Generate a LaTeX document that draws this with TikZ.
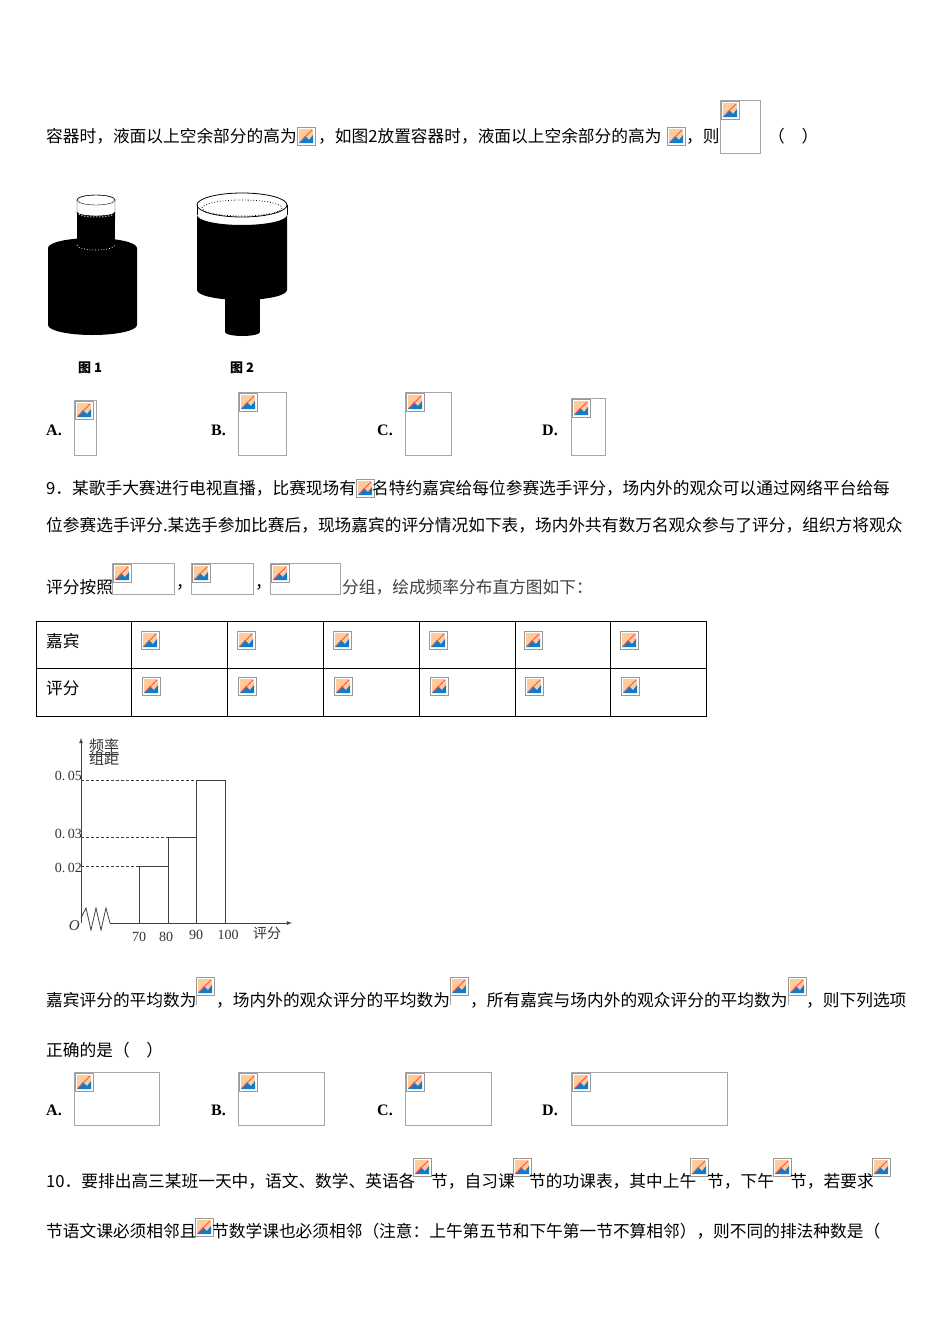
\documentclass[tikz,border=0pt]{standalone}
\usepackage{fontspec}
\newfontfamily\cjk{Noto Sans CJK SC}
\newfontfamily\lib{Liberation Serif}
\begin{document}
\begin{tikzpicture}[x=1pt,y=-1pt,
  tx/.style={anchor=west,inner sep=0pt,font=\cjk\fontsize{16.7}{18}\selectfont},
  lb/.style={anchor=west,inner sep=0pt,font=\lib\bfseries\fontsize{16}{18}\selectfont},
  fr/.style={draw=black!35,line width=0.6pt},
  icon/.pic={\draw[black!40,line width=0.5pt,fill=white] (0,0) rectangle (18,18);
    \fill[orange!40] (2,2) rectangle (16,16);
    \fill[cyan!60!blue] (2,16) -- (8,9) -- (12,13) -- (16,8) -- (16,16) -- cycle;
    \draw[red!70,line width=1pt] (3,15) -- (15,3);}]
\useasboundingbox (0,0) rectangle (950,1344);
% line 1
\node[tx] (l1a) at (46,136) {容器时，液面以上空余部分的高为};
\pic at (297,127) {icon};
\node[tx] (l1b) at (318,136) {，如图2放置容器时，液面以上空余部分的高为};
\pic at (667,127) {icon};
\node[tx] (l1c) at (686,136) {，则};
\draw[fr] (720,100) rectangle (760,153); \pic at (721,101) {icon};
\node[tx] (l1d) at (768,136) {（　）};
% figure 1
\fill[black] (48,248) -- (48,325) arc[start angle=180,end angle=0,x radius=44.5,y radius=10] -- (137,248) arc[start angle=0,end angle=-180,x radius=44.5,y radius=10];
\fill[black] (77,200) rectangle (115,245);
\draw[white,dotted,line width=0.8pt] (77,245) arc[start angle=180,end angle=0,x radius=19,y radius=5];
\draw[black,fill=white] (96,200) ellipse[x radius=19,y radius=5];
\fill[white] (77,200) rectangle (115,212);
\draw[black,fill=white] (77,200) -- (77,212) arc[start angle=180,end angle=0,x radius=19,y radius=4] -- (115,200);
\draw[black] (96,200) ellipse[x radius=19,y radius=5];
\fill[black] (77,212) arc[start angle=180,end angle=0,x radius=19,y radius=4] -- (115,220) -- (77,220) -- cycle;
\draw[white,dotted,line width=1pt] (79,214) arc[start angle=180,end angle=0,x radius=17,y radius=3];
\node[font=\cjk\bfseries\fontsize{13}{14}\selectfont] (f1) at (90,368) {图 1};
% figure 2
\fill[black] (225,295) rectangle (260,332);
\fill[black] (260,332) arc[start angle=0,end angle=180,x radius=17.5,y radius=4] -- cycle;
\fill[black] (197,215) -- (197,290) arc[start angle=180,end angle=0,x radius=45,y radius=10] -- (287,215) arc[start angle=0,end angle=180,x radius=45,y radius=10] -- cycle;
\draw[line width=0.8pt] (197,205) -- (197,215) (287,205) -- (287,215);
\draw[line width=0.8pt] (242,205) ellipse[x radius=45,y radius=12];
\draw[dotted,line width=0.8pt] (242,208) ellipse[x radius=40,y radius=8];
\node[font=\cjk\bfseries\fontsize{13}{14}\selectfont] (f2) at (242,368) {图 2};
% options 1
\node[lb] (oa) at (46,430) {A.}; \draw[fr] (74,400) rectangle (96,455); \pic at (75,401) {icon};
\node[lb] (ob) at (211,430) {B.}; \draw[fr] (238,392) rectangle (286,455); \pic at (239,393) {icon};
\node[lb] (oc) at (377,430) {C.}; \draw[fr] (405,392) rectangle (451,455); \pic at (406,393) {icon};
\node[lb] (od) at (542,430) {D.}; \draw[fr] (571,398) rectangle (605,455); \pic at (572,399) {icon};
% Q9
\node[tx] (q9a) at (46,488) {9．某歌手大赛进行电视直播，比赛现场有};
\pic at (356,479) {icon};
\node[tx] (q9b) at (372,488) {名特约嘉宾给每位参赛选手评分，场内外的观众可以通过网络平台给每};
\node[tx] (q9c) at (46,525) {位参赛选手评分.某选手参加比赛后，现场嘉宾的评分情况如下表，场内外共有数万名观众参与了评分，组织方将观众};
\node[tx] (q9d) at (46,587) {评分按照};
\draw[fr] (112,563) rectangle (174,594); \pic at (113,564) {icon};
\node[tx] at (176,587) {，};
\draw[fr] (191,563) rectangle (253,594); \pic at (192,564) {icon};
\node[tx] at (255,587) {，};
\draw[fr] (270,563) rectangle (340,594); \pic at (271,564) {icon};
\node[tx,text=black!75] (q9e) at (342,587) {分组，绘成频率分布直方图如下：};
% table
\draw[line width=0.8pt] (36,621) rectangle (706,716);
\draw[line width=0.8pt] (36,668) -- (706,668);
\foreach \x in {131,227,323,419,515,610} {\draw[line width=0.8pt] (\x,621) -- (\x,716);}
\node[tx] (t1) at (46,641) {嘉宾};
\node[tx] (t2) at (46,688) {评分};
\foreach \x in {141,237,333,429,524,620} {\pic at (\x,631) {icon}; \pic at (\x+1,677) {icon};}
% histogram
\begin{scope}[black!75,line width=0.8pt]
\draw[-latex] (81,923) -- (81,738);
\draw[-latex] (110,923) -- (292,923);
\draw (81,918) -- (86,908) -- (91,930) -- (96,908) -- (101,930) -- (106,908) -- (110,923);
\draw (139,923) -- (139,866) -- (168,866) -- (168,923);
\draw (168,866) -- (168,837) -- (196,837) -- (196,923);
\draw (196,837) -- (196,780) -- (225,780) -- (225,923);
\draw[densely dashed] (81,780) -- (196,780) (81,837) -- (168,837) (81,866) -- (139,866);
\end{scope}
\begin{scope}[every node/.style={font=\lib\fontsize{14}{14}\selectfont,text=black!80,inner sep=1pt}]
\node[anchor=east] (y5) at (83,776) {0.\,05};
\node[anchor=east] (y3) at (83,834) {0.\,03};
\node[anchor=east] (y2) at (83,868) {0.\,02};
\node[anchor=east,font=\lib\itshape\fontsize{15}{15}\selectfont] (o) at (81,926) {O};
\node (x70) at (139,937) {70};
\node (x80) at (166,937) {80};
\node (x90) at (196,935) {90};
\node (x100) at (228,935) {100};
\end{scope}
\node[font=\cjk\fontsize{14}{14}\selectfont,text=black!80] (xl) at (267,933) {评分};
\node[font=\cjk\fontsize{15}{15}\selectfont,text=black!80,align=center,inner sep=0pt] (yl) at (104,752) {\underline{频率}\\[-4pt]组距};
% after hist
\node[tx] (r1) at (46,1000) {嘉宾评分的平均数为};
\pic at (196,977) {icon}; \draw[fr] (196,995) -- (196,1005);
\node[tx] (r2) at (216,1000) {，场内外的观众评分的平均数为};
\pic at (450,977) {icon}; \draw[fr] (450,995) -- (450,1005);
\node[tx] (r3) at (470,1000) {，所有嘉宾与场内外的观众评分的平均数为};
\pic at (788,977) {icon}; \draw[fr] (788,995) -- (788,1005);
\node[tx] (r4) at (806,1000) {，则下列选项};
\node[tx] (r5) at (46,1050) {正确的是（　）};
\node[lb] (pa) at (46,1110) {A.}; \draw[fr] (74,1072) rectangle (159,1125); \pic at (75,1073) {icon};
\node[lb] (pb) at (211,1110) {B.}; \draw[fr] (238,1072) rectangle (324,1125); \pic at (239,1073) {icon};
\node[lb] (pc) at (377,1110) {C.}; \draw[fr] (405,1072) rectangle (491,1125); \pic at (406,1073) {icon};
\node[lb] (pd) at (542,1110) {D.}; \draw[fr] (571,1072) rectangle (727,1125); \pic at (572,1073) {icon};
% Q10
\node[tx] (q10a) at (46,1181) {10．要排出高三某班一天中，语文、数学、英语各};
\pic at (413,1158) {icon};
\node[tx] (q10b) at (431,1181) {节，自习课};
\pic at (513,1158) {icon};
\node[tx] (q10c) at (529,1181) {节的功课表，其中上午};
\pic at (690,1158) {icon};
\node[tx] (q10d) at (707,1181) {节，下午};
\pic at (773,1158) {icon};
\node[tx] (q10e) at (790,1181) {节，若要求};
\pic at (872,1158) {icon};
\node[tx] (q10f) at (46,1231) {节语文课必须相邻且};
\pic at (195,1218) {icon};
\node[tx] (q10g) at (212,1231) {节数学课也必须相邻（注意：上午第五节和下午第一节不算相邻），则不同的排法种数是（};
\end{tikzpicture}
\end{document}
